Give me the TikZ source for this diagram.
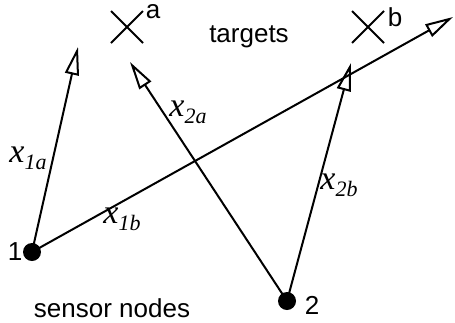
\documentclass[tikz,border=0pt]{standalone}
\usepackage{fontspec}
\setmainfont{Liberation Serif}
\setsansfont{Liberation Sans}
\usetikzlibrary{arrows.meta,shapes.misc}
\newcommand{\xlab}[1]{x\raisebox{-0.45ex}{\fontsize{11}{12}\selectfont #1}}

\begin{document}
\begin{tikzpicture}[x=0.5pt, y=-0.5pt, line width=1pt,
    >={Triangle[open,length=14pt,width=7pt]},
    sensor/.style={circle, fill, inner sep=0pt, minimum size=9pt},
    target/.style={cross out, draw, inner sep=0pt, minimum size=15pt},
    tag/.style={font=\sffamily\fontsize{13}{15}\selectfont, inner sep=0pt},
    dist/.style={font=\fontsize{17}{19}\selectfont\itshape, inner sep=0pt}]
  \useasboundingbox (0,0) rectangle (455,322);
  % targets
  \node (ta) [target] at (127,27) {};
  \node (tb) [target] at (368,27) {};
  \node [tag] at (153,12) {a};
  \node [tag] at (395,17) {b};
  \node [tag, anchor=base] at (249,42) {targets};
  % sensor nodes
  \node (s1) [sensor] at (32,252) {};
  \node (s2) [sensor] at (287,301) {};
  \node [tag] at (15,252) {1};
  \node [tag] at (312,305) {2};
  \node [tag, anchor=base] at (112,317) {sensor nodes};
  % arrow ends
  \coordinate (e1a) at (78,47);
  \coordinate (e1b) at (453,17);
  \coordinate (e2a) at (130,62);
  \coordinate (e2b) at (351,63);
  \path[->]
    (s1.center) edge (e1a)
    (s1.center) edge (e1b)
    (s2.center) edge (e2a)
    (s2.center) edge (e2b);
  % distances
  \node [dist] at (28,158) {\xlab{1a}};
  \node [dist] at (188,112) {\xlab{2a}};
  \node [dist] at (122,219) {\xlab{1b}};
  \node [dist] at (339,185) {\xlab{2b}};
\end{tikzpicture}
\end{document}
